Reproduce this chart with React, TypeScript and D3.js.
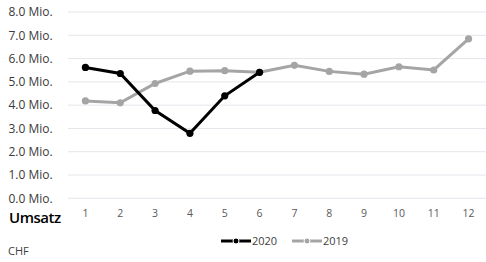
import React from 'react';
import * as d3 from 'd3';

const months = ['1', '2', '3', '4', '5', '6', '7', '8', '9', '10', '11', '12'];
const sales2020 = [5.62, 5.36, 3.77, 2.79, 4.4, 5.41];
const sales2019 = [4.18, 4.1, 4.93, 5.46, 5.48, 5.41, 5.71, 5.45, 5.33, 5.65, 5.51, 6.85];
const yTicks = [0, 1, 2, 3, 4, 5, 6, 7, 8];
const seriesNames = ['2020', '2019'];

const width = 486;
const height = 262;
const font = '"Open Sans", "Noto Sans", sans-serif';

export default function App() {
  const x = d3.scaleBand().domain(months).range([68, 486]);
  const y = d3.scaleLinear().domain([0, 8]).range([198.3, 12]);
  const cx = (m: string) => (x(m) || 0) + x.bandwidth() / 2;

  const line = d3
    .line<number>()
    .x((d, i) => cx(months[i]))
    .y((d) => y(d));

  const series = [
    { name: seriesNames[0], values: sales2020, color: '#000000' },
    { name: seriesNames[1], values: sales2019, color: '#a5a5a5' },
  ];

  // legend positions
  const legendX = [221, 292];

  return (
    <svg
      width={width}
      height={height}
      style={{ position: 'absolute', left: 0, top: 0, background: '#fff' }}
      fontFamily={font}
    >
      {yTicks.map((t) => (
        <g key={t}>
          <line x1={68} x2={486} y1={y(t)} y2={y(t)} stroke="#e3e6eb" strokeWidth={1} />
          <text x={8.5} y={y(t) + 4.3} fontSize={12} fill="#3a3a3a">
            {t.toFixed(1) + ' Mio.'}
          </text>
        </g>
      ))}
      {months.map((m) => (
        <text key={m} x={cx(m)} y={217} fontSize={10.5} fill="#595959" textAnchor="middle">
          {m}
        </text>
      ))}
      <text x={9} y={222.5} fontSize={15} fontWeight={600} fill="#000" letterSpacing={-0.5}>
        Umsatz
      </text>
      <text x={8} y={255} fontSize={11} fill="#404040">
        CHF
      </text>

      {series
        .slice()
        .reverse()
        .map((s) => (
          <g key={s.name}>
            <path d={line(s.values) || ''} fill="none" stroke={s.color} strokeWidth={3} />
            {s.values.map((v, i) => (
              <circle key={i} cx={cx(months[i])} cy={y(v)} r={3.6} fill={s.color} />
            ))}
          </g>
        ))}

      {series.map((s, i) => (
        <g key={s.name}>
          <line x1={legendX[i]} x2={legendX[i] + 30} y1={241} y2={241} stroke={s.color} strokeWidth={3} />
          <circle cx={legendX[i] + 15} cy={241} r={3} fill={s.color} stroke="#fff" strokeWidth={1} />
          <text x={legendX[i] + 31} y={245} fontSize={11} fill="#404040">
            {s.name}
          </text>
        </g>
      ))}
    </svg>
  );
}
